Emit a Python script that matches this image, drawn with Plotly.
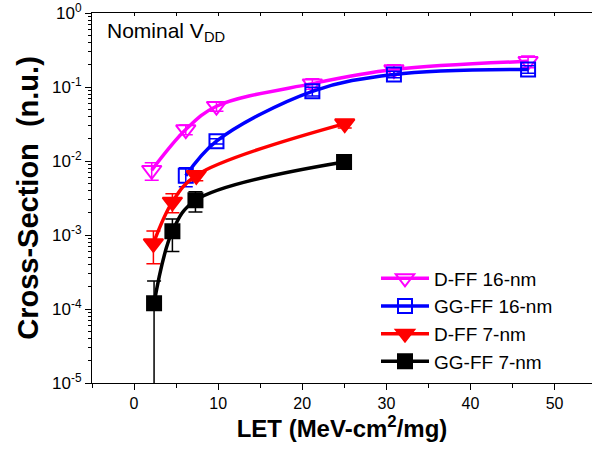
import plotly.graph_objects as go

# LET (MeV-cm^2/mg) and normalized cross-section per flip-flop design
let_dff16 = [2.1, 6.15, 9.8, 21.2, 30.9, 46.85]
cs_dff16 = [7.5e-3, 2.66e-2, 5.5e-2, 0.111, 0.172, 0.222]
err_dff16 = [2.0e-3, 4.0e-3, 8.0e-3, 0.018, 0.028, 0.040]

let_ggff16 = [6.15, 9.8, 21.2, 30.9, 46.85]
cs_ggff16 = [6.3e-3, 0.0185, 0.0875, 0.148, 0.173]
err_ggff16 = [1.8e-3, 1.5e-3, 0.012, 0.015, 0.020]

let_dff7 = [2.3, 4.56, 7.4, 25.05]
cs_dff7 = [7.7e-4, 2.8e-3, 6.4e-3, 0.032]
err_dff7 = [3.6e-4, 0.8e-3, 1.0e-3, 4.0e-3]

let_ggff7 = [2.38, 4.56, 7.3, 24.97]
cs_ggff7 = [1.2e-4, 1.12e-3, 2.94e-3, 9.7e-3]
err_ggff7 = [1.19e-4, 0.52e-3, 0.9e-3, 0.8e-3]

series = [
    ("D-FF 16-nm", let_dff16, cs_dff16, err_dff16, "#FF00FF", "triangle-down-open", 17),
    ("GG-FF 16-nm", let_ggff16, cs_ggff16, err_ggff16, "#0000FF", "square-open", 14),
    ("D-FF 7-nm", let_dff7, cs_dff7, err_dff7, "#FF0000", "triangle-down", 17),
    ("GG-FF 7-nm", let_ggff7, cs_ggff7, err_ggff7, "#000000", "square", 14),
]

x_ticks = [0, 10, 20, 30, 40, 50]
y_exps = [-5, -4, -3, -2, -1, 0]
y_ticks = [10.0 ** e for e in y_exps]
y_ticklabels = [f"10<sup>{e}</sup>" for e in y_exps]
y_minor = [m * 10.0 ** e for e in y_exps[:-1] for m in range(2, 10)]

FONT = "Arial, Liberation Sans, sans-serif"

fig = go.Figure()
for name, xs, ys, es, color, symbol, size in series:
    fig.add_trace(go.Scatter(
        x=xs, y=ys, name=name, mode="lines+markers",
        line=dict(color=color, width=3.5, shape="spline", smoothing=1.0),
        marker=dict(symbol=symbol, size=size, color=color,
                    line=dict(color=color, width=2)),
        error_y=dict(type="data", array=es, visible=True, color=color,
                     thickness=1.5, width=7),
    ))

# invisible trace carrying the mirrored top axis
fig.add_trace(go.Scatter(x=[0], y=[1e-3], xaxis="x2", mode="markers",
                         marker=dict(opacity=0), showlegend=False, hoverinfo="skip"))

fig.add_annotation(text="Nominal V<sub>DD</sub>", xref="paper", yref="paper",
                   x=0.026, y=0.99, xanchor="left", yanchor="top", showarrow=False,
                   font=dict(family=FONT, size=21, color="black"))

fig.update_layout(
    width=592, height=459,
    margin=dict(l=92, r=0, t=13, b=76),
    paper_bgcolor="white", plot_bgcolor="white",
    font=dict(family=FONT, color="black"),
    showlegend=True,
    legend=dict(x=0.568, y=0.334, xanchor="left", yanchor="top",
                font=dict(family=FONT, size=19), bgcolor="rgba(0,0,0,0)",
                itemwidth=48, tracegroupgap=0),
    xaxis=dict(
        range=[-5, 54.45], tickvals=x_ticks, ticks="outside", ticklen=6,
        tickwidth=1.2, tickcolor="black", showline=True, linecolor="black",
        linewidth=1.2, showgrid=False, zeroline=False,
        tickfont=dict(family=FONT, size=16),
        minor=dict(tickvals=[-5, 5, 15, 25, 35, 45], ticks="outside", ticklen=4,
                   tickcolor="black", showgrid=False),
        title=dict(text="LET (MeV-cm<sup>2</sup>/mg)", standoff=8,
                   font=dict(family=FONT, size=24, weight="bold")),
    ),
    xaxis2=dict(
        overlaying="x", side="top", range=[-5, 54.45],
        tickvals=[-5, 0, 5, 10, 15, 20, 25, 30, 35, 40, 45, 50],
        ticks="inside", ticklen=3, tickcolor="black", showticklabels=False,
        showline=True, linecolor="black", linewidth=1.2, showgrid=False,
        zeroline=False,
    ),
    yaxis=dict(
        type="log", range=[-5, 0], tickvals=y_ticks, ticktext=y_ticklabels,
        ticks="outside", ticklen=6, tickwidth=1.2, tickcolor="black",
        showline=True, linecolor="black", linewidth=1.2, showgrid=False,
        zeroline=False, tickfont=dict(family=FONT, size=17),
        minor=dict(tickvals=y_minor, ticks="outside", ticklen=3,
                   tickcolor="black", showgrid=False),
        title=dict(text="Cross-Section  (n.u.)", standoff=4,
                   font=dict(family=FONT, size=29, weight="bold")),
    ),
)

fig.write_html("out.html")
